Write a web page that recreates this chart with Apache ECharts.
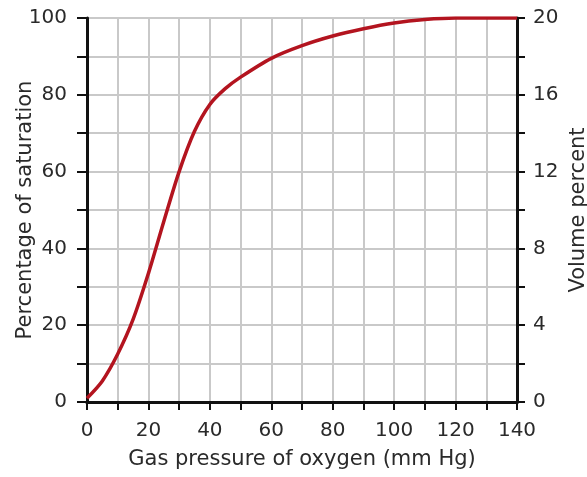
<!DOCTYPE html>
<html><head><meta charset="utf-8">
<script src="https://cdn.jsdelivr.net/npm/echarts@6/dist/echarts.min.js"></script>
<style>html,body{margin:0;padding:0;background:#fff}#c{width:587px;height:477px}</style>
</head><body><div id="c"></div>
<script>
var pressure = [0, 5, 10, 15, 20, 25, 30, 35, 40, 45, 50, 60, 70, 80, 90, 100, 110, 120, 130, 140];
var saturation = [1, 5.5, 12.5, 21.5, 33.5, 47, 60, 70.5, 77.5, 81.6, 84.6, 89.5, 92.8, 95.3, 97.2, 98.7, 99.6, 100, 100, 100];
var xTitle = 'Gas pressure of oxygen (mm Hg)';
var yTitle = 'Percentage of saturation';
var y2Title = 'Volume percent';

var font = 'DejaVu Sans';
var txt = '#2a2a2a';
var chart = echarts.init(document.getElementById('c'));
chart.setOption({
  animation: false,
  grid: {left: 87, right: 70, top: 18, bottom: 75, containLabel: false, outerBoundsMode: 'none'},
  xAxis: [{
    type: 'value', min: 0, max: 140, interval: 10,
    name: xTitle, nameLocation: 'middle', nameGap: 47, nameMoveOverlap: false,
    nameTextStyle: {fontFamily: font, fontSize: 21, color: txt},
    axisLine: {show: true, onZero: false, lineStyle: {color: '#111', width: 3}},
    axisTick: {show: true, length: 8, lineStyle: {color: '#111', width: 2}},
    axisLabel: {margin: 19, fontFamily: font, fontSize: 20, color: txt,
      formatter: function (v) { return v % 20 === 0 ? String(v) : ''; }},
    splitLine: {show: true, lineStyle: {color: '#c9c9c9', width: 2}}
  }, {
    type: 'value', min: 0, max: 140, position: 'top',
    axisLine: {show: true, lineStyle: {color: '#111', width: 3}},
    axisTick: {show: false}, axisLabel: {show: false}, splitLine: {show: false}
  }],
  yAxis: [{
    type: 'value', min: 0, max: 100, interval: 10, position: 'left',
    name: yTitle, nameLocation: 'middle', nameGap: 51, nameMoveOverlap: false,
    nameTextStyle: {fontFamily: font, fontSize: 21, color: txt},
    axisLine: {show: true, onZero: false, lineStyle: {color: '#111', width: 3}},
    axisTick: {show: true, length: 10, lineStyle: {color: '#111', width: 2}},
    axisLabel: {margin: 20, fontFamily: font, fontSize: 20, color: txt,
      formatter: function (v) { return v % 20 === 0 ? String(v) : ''; }},
    splitLine: {show: true, lineStyle: {color: '#c9c9c9', width: 2}}
  }, {
    type: 'value', min: 0, max: 20, interval: 2, position: 'right',
    name: y2Title, nameLocation: 'middle', nameGap: 51, nameMoveOverlap: false,
    nameTextStyle: {fontFamily: font, fontSize: 21, color: txt},
    axisLine: {show: true, onZero: false, lineStyle: {color: '#111', width: 3}},
    axisTick: {show: true, length: 8, lineStyle: {color: '#111', width: 2}},
    axisLabel: {margin: 16, fontFamily: font, fontSize: 20, color: txt,
      formatter: function (v) { return v % 4 === 0 ? String(v) : ''; }},
    splitLine: {show: false}
  }],
  series: [{
    type: 'line', smooth: 0.3, showSymbol: false,
    xAxisIndex: 0, yAxisIndex: 0,
    lineStyle: {color: '#b3141f', width: 3.5},
    data: pressure.map(function (p, i) { return [p, saturation[i]]; })
  }]
});
</script></body></html>
